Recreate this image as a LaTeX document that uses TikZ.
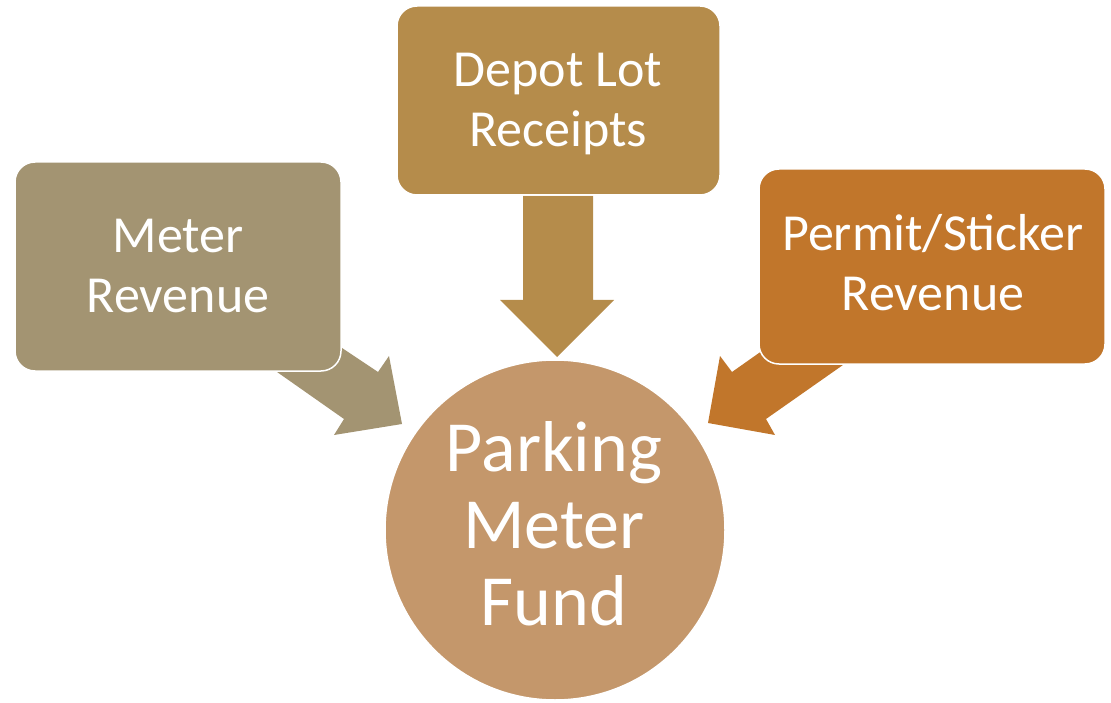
\documentclass[tikz,border=0pt]{standalone}
\usepackage{fontspec}
\setmainfont{Carlito}
\definecolor{meterc}{RGB}{163,148,114}
\definecolor{depotc}{RGB}{181,140,75}
\definecolor{permitc}{RGB}{193,118,43}
\definecolor{fundc}{RGB}{196,151,107}
\begin{document}
\begin{tikzpicture}[x=1pt,y=-1pt,
  srcbox/.style={draw=white,line width=1.5pt,rounded corners=20pt},
  srclabel/.style={text=white,align=center,inner sep=0pt,
    font=\fontsize{52}{60}\selectfont},
  fundnode/.style={circle,draw=white,line width=1.5pt,fill=fundc,
    minimum size=340pt,inner sep=0pt},
  fundlabel/.style={text=white,align=center,inner sep=0pt,
    font=\fontsize{72}{77}\selectfont}]
\useasboundingbox (0,0) rectangle (1111,703);

% block arrows, drawn first so the boxes cover their tails
\fill[depotc] (523,196) -- (593,196) -- (593,300) -- (614,300)
  -- (557,357) -- (500,300) -- (523,300) -- cycle;
\fill[meterc] (300,320) -- (378,372) -- (389,356) -- (402,424)
  -- (334,435) -- (344,419) -- (240,346) -- cycle;
\fill[permitc] (810,317) -- (732,372) -- (720,356) -- (708,423)
  -- (775,435) -- (766,419) -- (880,339) -- cycle;

% source boxes
\draw[srcbox,fill=meterc] (15,162) rectangle (341,371);
\node[srclabel] (meter) at (178,266) {Meter\\Revenue};
\draw[srcbox,fill=depotc] (397,6) rectangle (720,195);
\node[srclabel] (depot) at (558,104) {Depot Lot\\Receipts};
\draw[srcbox,fill=permitc] (759,169) rectangle (1105,364);
\node[srclabel] (permit) at (933,263) {Permit/Sticker\\Revenue};

% the fund
\node[fundnode] (fund) at (555,530) {};
\node[fundlabel] (fundtext) at (554,524) {Parking\\Meter\\Fund};
\end{tikzpicture}
\end{document}
